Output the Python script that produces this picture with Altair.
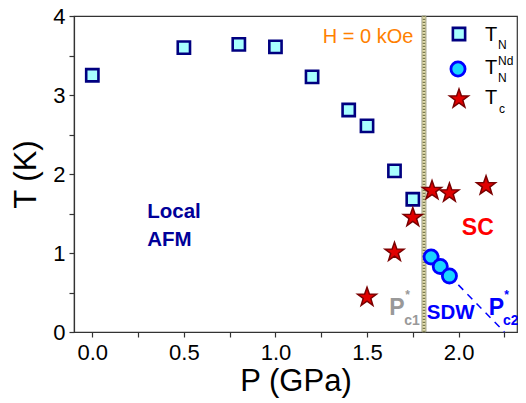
import altair as alt
import pandas as pd

# ---- data ----
tn_p = [0.0, 0.5, 0.8, 1.0, 1.2, 1.4, 1.5, 1.65, 1.75]
tn_t = [3.25, 3.60, 3.64, 3.61, 3.23, 2.81, 2.61, 2.04, 1.68]

tnd_p = [1.85, 1.90, 1.95]
tnd_t = [0.95, 0.83, 0.71]

tc_p = [1.50, 1.65, 1.75, 1.855, 1.95, 2.15]
tc_t = [0.44, 1.01, 1.45, 1.79, 1.76, 1.85]

sdw_line_p = [1.85, 2.25]
sdw_line_t = [0.95, 0.0]

band_p = [1.80, 1.822]

x_ticks = [0.0, 0.25, 0.5, 0.75, 1.0, 1.25, 1.5, 1.75, 2.0, 2.25]
y_ticks = [0, 0.5, 1, 1.5, 2, 2.5, 3, 3.5, 4]

STAR = ("M0,-1L0.235,-0.324L0.951,-0.309L0.380,0.124L0.588,0.809L0,0.4"
        "L-0.588,0.809L-0.380,0.124L-0.951,-0.309L-0.235,-0.324Z")

FONT = "Liberation Sans"
xs = alt.Scale(domain=[-0.1, 2.319], nice=False, zero=False)
ys = alt.Scale(domain=[0, 4], nice=False, zero=False)

xax = alt.Axis(values=x_ticks, labelExpr="datum.value % 0.5 == 0 ? format(datum.value, '.1f') : ''",
               title="P (GPa)", grid=False, labelFontSize=22, titleFontSize=31,
               titleFontWeight="normal", labelPadding=5, titlePadding=3, tickSize=5,
               labelFont=FONT, titleFont=FONT, domainColor="#333", tickColor="#333",
               labelColor="black", titleColor="black", labelFlush=False, labelOverlap=False)
yax = alt.Axis(values=y_ticks, labelExpr="datum.value % 1 == 0 ? format(datum.value, 'd') : ''",
               title="T (K)", grid=False, labelFontSize=22, titleFontSize=31,
               titleFontWeight="normal", labelPadding=4, titlePadding=10, tickSize=5,
               labelFont=FONT, titleFont=FONT, domainColor="#333", tickColor="#333",
               labelColor="black", titleColor="black", labelFlush=False, labelOverlap=False)

df_tn = pd.DataFrame({"P": tn_p, "T": tn_t})
df_tnd = pd.DataFrame({"P": tnd_p, "T": tnd_t})
df_tc = pd.DataFrame({"P": tc_p, "T": tc_t})
df_line = pd.DataFrame({"P": sdw_line_p, "T": sdw_line_t})
df_band = pd.DataFrame({"P": [band_p[0]], "P2": [band_p[1]], "T": [0.0], "T2": [4.0]})
df_hatch = pd.DataFrame({"P": [sum(band_p) / 2], "T": [0.0], "T2": [4.0]})

X = alt.X("P:Q", scale=xs, axis=xax)
Y = alt.Y("T:Q", scale=ys, axis=yax)

band = alt.Chart(df_band).mark_rect(fill="#e6e0b0", stroke="#8c8c70", strokeWidth=0.8).encode(
    x=X, x2="P2:Q", y=Y, y2="T2:Q")
band_hatch = alt.Chart(df_hatch).mark_rule(
    color="#7a7a50", strokeWidth=2.5, strokeDash=[1.2, 1.8]).encode(
    x=X, y=Y, y2="T2:Q")

line = alt.Chart(df_line).mark_line(color="#0000ff", strokeWidth=1.5, strokeDash=[7, 6]).encode(
    x=X, y=Y)

squares = alt.Chart(df_tn).mark_point(shape="square", filled=True, fill="#a8ffff",
                                      stroke="#000080", strokeWidth=2.6, size=150, opacity=1).encode(
    x=X, y=Y)
circles = alt.Chart(df_tnd).mark_point(shape="circle", filled=True, fill="#19d4ff",
                                       stroke="#0000ff", strokeWidth=2.8, size=200, opacity=1).encode(
    x=X, y=Y)
stars = alt.Chart(df_tc).mark_point(shape=STAR, filled=True, fill="#e00000",
                                    stroke="#7a0000", strokeWidth=1.5, size=400, opacity=1).encode(
    x=X, y=Y)


def txt(text, p, t, size, color, bold=False, align="center", baseline="middle"):
    return alt.Chart(pd.DataFrame({"P": [p], "T": [t]})).mark_text(
        text=text, fontSize=size, color=color, font=FONT,
        fontWeight="bold" if bold else "normal", align=align, baseline=baseline).encode(
        x=X, y=Y)


def ptxt(text, x, y, size, color):
    return alt.Chart(pd.DataFrame({"a": [0]})).mark_text(
        text=text, fontSize=size, color=color, font=FONT, align="left",
        baseline="middle").encode(x=alt.value(x), y=alt.value(y))


annotations = [
    txt("H = 0 kOe", 1.753, 3.66, 20, "#ff8000", align="right", baseline="alphabetic"),
    txt("Local", 0.30, 1.52, 20.5, "#000099", bold=True, align="left"),
    txt("AFM", 0.30, 1.16, 20.5, "#000099", bold=True, align="left"),
    txt("SC", 2.105, 1.32, 23, "#ff0000", bold=True),
    txt("SDW", 1.957, 0.235, 20.5, "#0000ff", bold=True),
    txt("P", 1.622, 0.215, 23, "#999999", bold=True, align="left", baseline="alphabetic"),
    txt("*", 1.722, 0.42, 12, "#999999", bold=True, align="center", baseline="alphabetic"),
    txt("c1", 1.703, 0.09, 14, "#999999", bold=True, align="left", baseline="alphabetic"),
    txt("P", 2.165, 0.215, 23, "#0000ff", bold=True, align="left", baseline="alphabetic"),
    txt("*", 2.262, 0.42, 12, "#0000ff", bold=True, align="center", baseline="alphabetic"),
    txt("c2", 2.242, 0.09, 14, "#0000ff", bold=True, align="left", baseline="alphabetic"),
]

# ---- legend (plot-area pixel positions) ----
one = pd.DataFrame({"a": [0]})
leg_sq = alt.Chart(one).mark_point(
    shape="square", filled=True, fill="#a8ffff", stroke="#000080", strokeWidth=2.6, size=150,
    opacity=1).encode(x=alt.value(385), y=alt.value(18))
leg_ci = alt.Chart(one).mark_point(
    shape="circle", filled=True, fill="#19d4ff", stroke="#0000ff", strokeWidth=2.8, size=200,
    opacity=1).encode(x=alt.value(384), y=alt.value(53))
leg_st = alt.Chart(one).mark_point(
    shape=STAR, filled=True, fill="#e00000", stroke="#7a0000", strokeWidth=1.5, size=400,
    opacity=1).encode(x=alt.value(385), y=alt.value(83))

legend_txt = [
    ptxt("T", 411, 19, 20, "black"),
    ptxt("N", 424, 29, 12, "black"),
    ptxt("T", 411, 52, 20, "black"),
    ptxt("Nd", 424, 45, 12, "black"),
    ptxt("N", 424, 62, 12, "black"),
    ptxt("T", 411, 82, 20, "black"),
    ptxt("c", 425, 93, 12, "black"),
]

chart = alt.layer(band, band_hatch, line, squares, circles, stars,
                  *annotations, leg_sq, leg_ci, leg_st, *legend_txt).properties(
    width=443, height=316,
    autosize=alt.AutoSizeParams(type="none"),
    padding={"left": 66, "top": 8, "right": 1, "bottom": 68},
).configure_view(stroke="#333", strokeWidth=1.2).configure_axis(
    domainWidth=1.2, tickWidth=1.2)

chart.save("out.html", embed_options={"renderer": "svg", "actions": False})
